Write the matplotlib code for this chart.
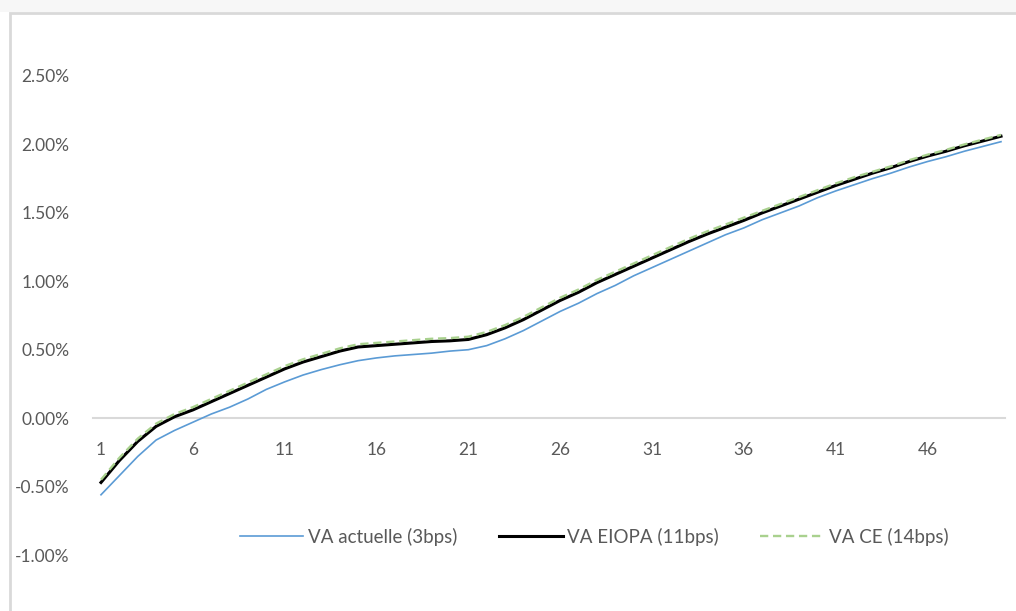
import matplotlib.pyplot as plt
from matplotlib.patches import Rectangle
from matplotlib.ticker import FuncFormatter

plt.rcParams['font.family'] = ['Lato', 'DejaVu Sans']

# maturities 1..50, rates in %
maturities = list(range(1, 51))
va_actuelle = [-0.56, -0.42, -0.28, -0.16, -0.09, -0.03, 0.03, 0.08, 0.14, 0.21,
               0.265, 0.315, 0.355, 0.39, 0.42, 0.44, 0.455, 0.465, 0.475, 0.49,
               0.50, 0.53, 0.58, 0.64, 0.71, 0.78, 0.84, 0.91, 0.97, 1.04,
               1.10, 1.16, 1.22, 1.28, 1.34, 1.39, 1.45, 1.50, 1.55, 1.61,
               1.66, 1.705, 1.75, 1.79, 1.835, 1.875, 1.91, 1.95, 1.985, 2.02]
va_eiopa = [-0.47, -0.31, -0.17, -0.06, 0.01, 0.06, 0.12, 0.18, 0.24, 0.30,
            0.36, 0.41, 0.45, 0.49, 0.52, 0.53, 0.54, 0.55, 0.56, 0.565,
            0.575, 0.61, 0.66, 0.72, 0.79, 0.86, 0.92, 0.99, 1.05, 1.11,
            1.17, 1.23, 1.29, 1.345, 1.395, 1.445, 1.50, 1.55, 1.60, 1.65,
            1.70, 1.745, 1.79, 1.83, 1.875, 1.915, 1.95, 1.99, 2.025, 2.06]
va_ce = [-0.45, -0.29, -0.15, -0.04, 0.03, 0.08, 0.14, 0.20, 0.26, 0.32,
         0.38, 0.43, 0.47, 0.51, 0.54, 0.55, 0.56, 0.57, 0.58, 0.585,
         0.595, 0.63, 0.68, 0.74, 0.81, 0.88, 0.94, 1.01, 1.07, 1.13,
         1.19, 1.25, 1.31, 1.365, 1.415, 1.465, 1.515, 1.565, 1.615, 1.665,
         1.715, 1.76, 1.80, 1.84, 1.885, 1.925, 1.96, 2.00, 2.035, 2.07]
labels = ["VA actuelle (3bps)", "VA EIOPA (11bps)", "VA CE (14bps)"]
y_ticks = [-1.0, -0.5, 0.0, 0.5, 1.0, 1.5, 2.0, 2.5]
x_ticks = [1, 6, 11, 16, 21, 26, 31, 36, 41, 46]

W, H = 1016, 611
fig = plt.figure(figsize=(W / 100, H / 100), dpi=100, facecolor="white")

# light band above the chart border and the border itself
fig.patches.append(Rectangle((0, 1 - 12 / H), 1, 12 / H, transform=fig.transFigure,
                             facecolor="#f7f7f7", edgecolor="none", zorder=-2))
fig.patches.append(Rectangle((10 / W, -0.1), 1.2, 1.1 - 13 / H, transform=fig.transFigure,
                             facecolor="none", edgecolor="#d9d9d9", linewidth=2, zorder=-1))

left, right = 93 / W, 1005 / W
bottom, top = 1 - 555 / H, 1 - 76 / H
ax = fig.add_axes([left, bottom, right - left, top - bottom])
ax.set_facecolor("none")

ax.plot(maturities, va_actuelle, color="#5B9BD5", linewidth=1.2, label=labels[0], zorder=3)
ax.plot(maturities, va_eiopa, color="#000000", linewidth=2.2, label=labels[1], zorder=4)
ax.plot(maturities, va_ce, color="#A9D18E", linewidth=1.7, dashes=(3.5, 2),
        label=labels[2], zorder=5)

px = (50 - 1) / (1001 - 101)
ax.set_xlim(1 - 8 * px, 50 + 4 * px)
ax.set_ylim(-1.0, 2.5)

for s in ["top", "right", "left"]:
    ax.spines[s].set_visible(False)
ax.spines["bottom"].set_position(("data", 0))
ax.spines["bottom"].set_color("#d9d9d9")
ax.spines["bottom"].set_linewidth(1.5)
ax.spines["bottom"].set_zorder(1)

ax.set_xticks(x_ticks)
ax.set_yticks(y_ticks)
ax.yaxis.set_major_formatter(FuncFormatter(lambda v, p: f"{v:.2f}%"))
ax.tick_params(axis="both", length=0, labelsize=12.5, labelcolor="#595959")
ax.tick_params(axis="y", pad=17)
ax.tick_params(axis="x", pad=17)

fig.legend(loc="center", bbox_to_anchor=(594 / W, 1 - 537 / H), ncol=3, frameon=False,
           fontsize=13.5, handlelength=3.4, handletextpad=0.25, columnspacing=2.2,
           labelcolor="#595959")

fig.savefig("out.png", dpi=100, facecolor="white")
